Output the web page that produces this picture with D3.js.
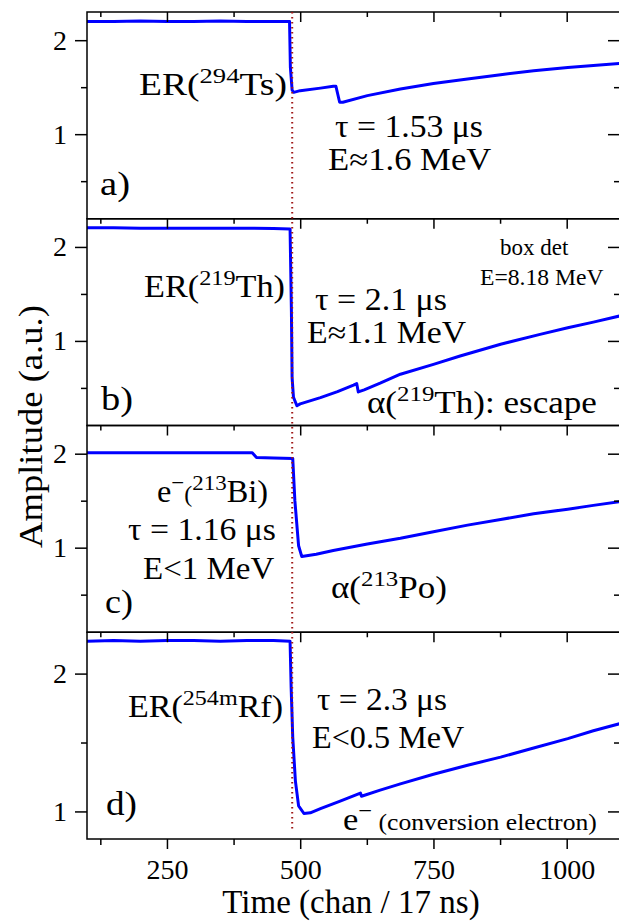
<!DOCTYPE html>
<html><head><meta charset="utf-8">
<script src="https://cdn.jsdelivr.net/npm/d3@7"></script>
<style>
body{margin:0;background:#fff}
svg{display:block}
svg text{font-family:"Liberation Serif","Tinos","Times New Roman","DejaVu Serif",serif;fill:#000}
</style>
</head><body>
<svg id="chart" width="619" height="921"></svg>
<script>
// ---------------- data ----------------
const xDomain = [100, 1100];
const xMajorTicks = [250, 500, 750, 1000];
const xMinorTicks = [125, 375, 625, 875];
const yMajorTicks = [1, 2];
const yMinorTicks = [0.5, 1.5];
const yDomainsABC = [0.1, 2.3];
const yDomainD = [0.8, 2.3];
const markerChan = 485;
const panelNames = ["a)", "b)", "c)", "d)"];
const xTitle = "Time (chan / 17 ns)";
const yTitle = "Amplitude (a.u.)";

const traceA = [[100,2.20],[150,2.20],[200,2.205],[250,2.20],[300,2.20],[350,2.205],[400,2.20],[450,2.20],[480,2.20],
  [481.6,1.71],[484.8,1.47],[487.8,1.445],[500,1.463],[538,1.49],[562,1.51],[567,1.51],[574,1.34],[580,1.34],
  [626,1.41],[688,1.48],[750,1.54],[814,1.587],[876,1.633],[938,1.675],[1002,1.71],[1050,1.73],[1100,1.753]];

const traceB = [[100,2.205],[150,2.205],[200,2.20],[250,2.20],[300,2.20],[350,2.20],[400,2.20],[450,2.195],[481,2.19],
  [483.5,1.32],[484.8,0.61],[487.4,0.40],[493.8,0.31],[500,0.33],[538,0.397],[570,0.46],[600,0.53],[606,0.546],
  [609,0.457],[620,0.48],[650,0.55],[688,0.646],[750,0.75],[800,0.84],[876,0.965],[950,1.07],[1002,1.14],[1050,1.20],[1100,1.266]];

const traceC = [[100,2.01],[150,2.01],[200,2.01],[250,2.01],[300,2.01],[350,2.01],[410,2.01],[418,1.96],[450,1.955],[486,1.95],
  [490,1.50],[497,1.02],[503,0.905],[530,0.93],[562,0.97],[626,1.04],[688,1.10],[750,1.17],[814,1.24],[876,1.30],
  [938,1.36],[1002,1.41],[1050,1.45],[1100,1.49]];

const traceD = [[100,2.235],[150,2.24],[200,2.235],[250,2.24],[300,2.24],[350,2.235],[400,2.24],[450,2.24],[481,2.235],
  [483,1.90],[486,1.54],[491,1.22],[497,1.04],[507,0.985],[519,0.99],[538,1.02],[575,1.075],[613,1.133],[615,1.11],
  [650,1.155],[688,1.20],[750,1.27],[814,1.335],[876,1.394],[938,1.46],[1002,1.528],[1050,1.585],[1100,1.637]];

// ---------------- layout ----------------
const FF = '"Liberation Serif","Tinos","Times New Roman","DejaVu Serif",serif';
const svg = d3.select("#chart");
const L = 87, R = 620, T0 = 12, PH = 206.75;
const x = d3.scaleLinear().domain(xDomain).range([L, R]);
const FONT_MAIN = 31, FONT_SUP = 22, SUP_SHIFT = 12;

const panels = [
  {trace: traceA, dom: yDomainsABC},
  {trace: traceB, dom: yDomainsABC},
  {trace: traceC, dom: yDomainsABC},
  {trace: traceD, dom: yDomainD}
];

function styleAxis(g){
  g.attr("font-family", FF);
  g.select(".domain").remove();
  g.selectAll(".tick line").attr("stroke","#000").attr("stroke-width",1.5);
  g.selectAll(".tick text").attr("font-family",FF).attr("fill","#000");
}

// text fitted between x0 and x1 on given baseline (horizontal stretch only)
function fitText(parent, x0, x1, base, parts, opt={}){
  const size = opt.size || FONT_MAIN;
  const sup = opt.sup || FONT_SUP;
  const g = parent.append("g");
  const t = g.append("text").attr("x",0).attr("y",0)
    .attr("font-family", FF).attr("font-size", size);
  let raised = false;
  parts.forEach(([s, k]) => {
    const ts = t.append("tspan").text(s);
    if (k === "s") {
      ts.attr("font-size", sup);
      if (!raised) { ts.attr("dy", -SUP_SHIFT); raised = true; }
    } else {
      if (k === "m") ts.attr("font-size", opt.small || 23);
      if (raised) { ts.attr("dy", SUP_SHIFT); raised = false; }
    }
  });
  const w = t.node().getBBox().width || 1;
  const sx = (x1 - x0) / w;
  g.attr("transform", `translate(${x0},${base}) scale(${sx},1)`);
  return g;
}

const yScales = [];
panels.forEach((p, i) => {
  const top = T0 + i*PH, bot = top + PH;
  const y = d3.scaleLinear().domain(p.dom).range([bot, top]);
  yScales.push(y);
  const g = svg.append("g");
  const clipId = "clip"+i;
  svg.append("clipPath").attr("id", clipId).append("rect")
    .attr("x", L).attr("y", top).attr("width", R-L).attr("height", PH);

  g.append("path").datum(p.trace)
    .attr("clip-path", `url(#${clipId})`)
    .attr("fill","none").attr("stroke","#0000ff").attr("stroke-width",3)
    .attr("stroke-linejoin","round")
    .attr("d", d3.line().x(d=>x(d[0])).y(d=>y(d[1])));

  const yMin = yMinorTicks.filter(v => v >= p.dom[0] && v <= p.dom[1]);
  const la = g.append("g").attr("transform",`translate(${L},0)`)
    .call(d3.axisLeft(y).tickValues(yMajorTicks).tickSize(12).tickPadding(8).tickFormat(d3.format("d")));
  styleAxis(la); la.selectAll(".tick text").attr("font-size",28);
  const lm = g.append("g").attr("transform",`translate(${L},0)`)
    .call(d3.axisLeft(y).tickValues(yMin).tickSize(6).tickFormat(""));
  styleAxis(lm);
  const ra = g.append("g").attr("transform",`translate(${R},0)`)
    .call(d3.axisLeft(y).tickValues(yMajorTicks).tickSize(12).tickFormat(""));
  styleAxis(ra);
  const rm = g.append("g").attr("transform",`translate(${R},0)`)
    .call(d3.axisLeft(y).tickValues(yMin).tickSize(6).tickFormat(""));
  styleAxis(rm);
  const ta = g.append("g").attr("transform",`translate(0,${top})`)
    .call(d3.axisBottom(x).tickValues(xMajorTicks).tickSize(10).tickFormat(""));
  styleAxis(ta);
  const tm = g.append("g").attr("transform",`translate(0,${top})`)
    .call(d3.axisBottom(x).tickValues(xMinorTicks).tickSize(5).tickFormat(""));
  styleAxis(tm);
  if (i === 3) {
    const ba = g.append("g").attr("transform",`translate(0,${bot})`)
      .call(d3.axisBottom(x).tickValues(xMajorTicks).tickSize(10).tickPadding(10).tickFormat(d3.format("d")));
    styleAxis(ba); ba.selectAll(".tick text").attr("font-size",28);
    const bm = g.append("g").attr("transform",`translate(0,${bot})`)
      .call(d3.axisBottom(x).tickValues(xMinorTicks).tickSize(6).tickFormat(""));
    styleAxis(bm);
  }
  g.append("rect").attr("x",L).attr("y",top).attr("width",R-L).attr("height",PH)
    .attr("fill","none").attr("stroke","#000").attr("stroke-width",1.5);
});

svg.append("line")
  .attr("x1", x(markerChan)).attr("x2", x(markerChan))
  .attr("y1", yScales[0](2.3)).attr("y2", yScales[3](0.86))
  .attr("stroke","#a01818").attr("stroke-width",2).attr("stroke-dasharray","1.6,3.4");

const ann = svg.append("g");
// panel labels
fitText(ann, 100, 130, 195, [[panelNames[0],"n"]], {size:34});
fitText(ann, 101, 133, 410, [[panelNames[1],"n"]], {size:34});
fitText(ann, 105, 133, 613, [[panelNames[2],"n"]], {size:34});
fitText(ann, 106, 137, 815, [[panelNames[3],"n"]], {size:34});
// a
fitText(ann, 139, 287, 95, [["ER(","n"],["294","s"],["Ts)","n"]]);
fitText(ann, 335, 483, 137, [["τ = 1.53 μs","n"]]);
fitText(ann, 328, 492, 170, [["E≈1.6 MeV","n"]]);
// b
fitText(ann, 144, 285, 297, [["ER(","n"],["219","s"],["Th)","n"]]);
fitText(ann, 315, 447, 310, [["τ = 2.1 μs","n"]]);
fitText(ann, 307, 467, 343, [["E≈1.1 MeV","n"]]);
fitText(ann, 500, 569, 255, [["box det","n"]], {size:23});
fitText(ann, 480, 604, 285, [["E=8.18 MeV","n"]], {size:23});
fitText(ann, 367, 597, 413, [["α(","n"],["219","s"],["Th): escape","n"]]);
// c
fitText(ann, 157, 268, 502, [["e","n"],["−","s"],["(","m"],["213","s"],["Bi)","n"]]);
fitText(ann, 128, 276, 540, [["τ = 1.16 μs","n"]]);
fitText(ann, 143, 275, 579, [["E<1 MeV","n"]]);
fitText(ann, 331, 447, 598, [["α(","n"],["213","s"],["Po)","n"]]);
// d
fitText(ann, 128, 283, 717, [["ER(","n"],["254m","s"],["Rf)","n"]]);
fitText(ann, 317, 447, 710, [["τ = 2.3 μs","n"]]);
fitText(ann, 312, 465, 748, [["E<0.5 MeV","n"]]);
fitText(ann, 343, 597, 830, [["e","n"],["−","s"],[" (conversion electron)","m"]]);

// axis titles
svg.append("text").attr("x", 351).attr("y", 913).attr("text-anchor","middle")
  .attr("font-family",FF).attr("font-size",33).text(xTitle);
const yt = svg.append("g");
const ytt = yt.append("text").attr("x",0).attr("y",0).attr("font-family",FF).attr("font-size",34).text(yTitle);
const yw = ytt.node().getBBox().width || 1;
yt.attr("transform", `translate(42,548) rotate(-90) scale(${243/yw},1)`);
</script>
</body></html>
